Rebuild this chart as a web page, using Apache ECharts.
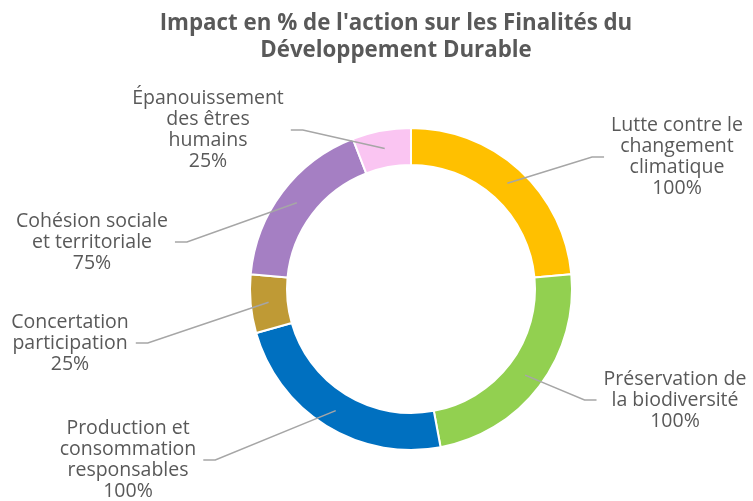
<!DOCTYPE html>
<html lang="fr">
<head>
  <meta charset="UTF-8">
  <title>Finalités du Développement Durable</title>
  <script src="https://cdn.jsdelivr.net/npm/echarts@6/dist/echarts.min.js"></script>
</head>
<body style="margin:0">
<div id="main" style="width: 753px;height:501px;"></div>
<script type="text/javascript">

// données
var categories = [
  'Lutte contre le\nchangement\nclimatique',
  'Préservation de\nla biodiversité',
  'Production et\nconsommation\nresponsables',
  'Concertation\nparticipation',
  'Cohésion sociale\net territoriale',
  'Épanouissement\ndes êtres\nhumains'
];
var values = [100, 100, 100, 25, 75, 25];
var colors = ['#FFC000', '#92D050', '#0070C0', '#BF9A35', '#A57FC3', '#FAC5F2'];

// position des étiquettes (centre du bloc de texte)
var labelPos = [[677, 157], [675, 400], [128, 460], [70, 343], [92, 242], [208, 130]];

var cx = 411, cy = 289;

var myChart = echarts.init(document.getElementById('main'));

var data = categories.map(function (c, i) {
  return { name: c, value: values[i], itemStyle: { color: colors[i] } };
});

var option = {
  title: {
    text: "Impact en % de l'action sur les Finalités du\nDéveloppement Durable",
    left: 391,
    top: 5,
    textAlign: 'center',
    textStyle: {
      fontFamily: 'Open Sans',
      fontWeight: 'bold',
      fontSize: 22.3,
      lineHeight: 27,
      color: '#595959'
    }
  },
  series: [{
    // anneau
    type: 'pie',
    center: [cx, cy],
    radius: [124, 161],
    startAngle: 90,
    clockwise: true,
    animation: false,
    z: 2,
    itemStyle: { borderColor: '#fff', borderWidth: 2 },
    label: { show: false },
    labelLine: { show: false },
    data: data
  }, {
    // étiquettes, ancrées au milieu de l'anneau
    type: 'pie',
    center: [cx, cy],
    radius: [0, 143],
    startAngle: 90,
    clockwise: true,
    animation: false,
    silent: true,
    z: 3,
    itemStyle: { color: 'transparent' },
    label: {
      show: true,
      position: 'outside',
      formatter: function (p) { return p.name + '\n' + p.value + '%'; },
      fontFamily: 'Open Sans',
      fontSize: 19.5,
      lineHeight: 21,
      color: '#595959',
      align: 'center'
    },
    labelLine: {
      show: true,
      lineStyle: { color: '#A6A6A6', width: 1.5 }
    },
    labelLayout: function (params) {
      var pos = labelPos[params.dataIndex];
      var a = params.labelLinePoints[0];
      var half = params.labelRect.width / 2 + 7;
      var side = pos[0] > cx ? -1 : 1;
      var ex = pos[0] + side * half;
      return {
        x: pos[0],
        y: pos[1],
        align: 'center',
        verticalAlign: 'middle',
        labelLinePoints: [[a[0], a[1]], [ex + side * 12, pos[1]], [ex, pos[1]]]
      };
    },
    data: data.map(function (d) {
      return { name: d.name, value: d.value, itemStyle: { color: 'transparent' } };
    })
  }]
};

myChart.setOption(option);

</script>
</body>
</html>
